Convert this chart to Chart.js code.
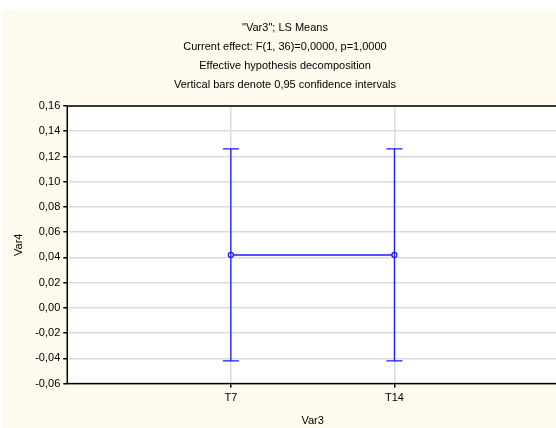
<!DOCTYPE html>
<html lang="en">
  <head>
    <meta charset="utf-8">
    <title>LS Means</title>
    <script src="https://cdn.jsdelivr.net/npm/chart.js@4/dist/chart.umd.min.js"></script>
    <style>
      html, body { margin: 0; padding: 0; background: #fff; overflow: hidden; }
      #wrap { position: absolute; left: 2px; top: 10px; width: 570px; height: 418px; background: #fff9ee; }
    </style>
  </head>
  <body>
    <div id="wrap">
      <canvas id="chart" width="570" height="418"></canvas>
    </div>

    <script type="text/javascript">

    var categories = ['T7', 'T14']
    var means = [0.042, 0.042]
    var lower = [-0.042, -0.042]
    var upper = [0.126, 0.126]

    var titleLines = [
      '"Var3"; LS Means',
      'Current effect: F(1, 36)=0,0000, p=1,0000',
      'Effective hypothesis decomposition',
      'Vertical bars denote 0,95 confidence intervals'
    ]

    var blue = '#1a1aff'

    // white plot area with black frame
    var plotBox = {
      id: 'plotBox',
      beforeDraw: function(chart){
        var a = chart.chartArea, ctx = chart.ctx
        ctx.save()
        ctx.fillStyle = '#fff'
        ctx.fillRect(a.left, a.top, a.right - a.left, a.bottom - a.top)
        ctx.restore()
      },
      afterDraw: function(chart){
        var a = chart.chartArea, ctx = chart.ctx
        ctx.save()
        ctx.strokeStyle = '#000'
        ctx.lineWidth = 1.5
        ctx.strokeRect(a.left, a.top, a.right - a.left, a.bottom - a.top)
        ctx.restore()
      }
    }

    // confidence interval whiskers
    var whiskers = {
      id: 'whiskers',
      afterDatasetsDraw: function(chart){
        var xs = chart.scales.x, ys = chart.scales.y, ctx = chart.ctx
        ctx.save()
        ctx.strokeStyle = blue
        ctx.lineWidth = 1.3
        for (var i = 0; i < categories.length; i++) {
          var x = xs.getPixelForValue(i + 1)
          var yl = ys.getPixelForValue(lower[i])
          var yu = ys.getPixelForValue(upper[i])
          ctx.beginPath()
          ctx.moveTo(x, yl); ctx.lineTo(x, yu)
          ctx.moveTo(x - 8, yl); ctx.lineTo(x + 8, yl)
          ctx.moveTo(x - 8, yu); ctx.lineTo(x + 8, yu)
          ctx.stroke()
        }
        ctx.restore()
      }
    }

    var font = { family: 'Arial, "Liberation Sans", sans-serif', size: 11 }

    var ctx = document.getElementById('chart').getContext('2d')
    var chart = new Chart(ctx, {
      type: 'line',
      data: {
        datasets: [{
          data: means.map(function(m, i){ return { x: i + 1, y: m } }),
          borderColor: blue,
          borderWidth: 1.5,
          backgroundColor: '#fff',
          pointRadius: 2.5,
          pointBorderWidth: 1.3,
          pointBorderColor: blue,
          pointBackgroundColor: '#fff'
        }]
      },
      options: {
        responsive: false,
        animation: false,
        layout: { padding: { left: 10, right: 14, top: 2, bottom: 0 } },
        plugins: {
          legend: { display: false },
          tooltip: { enabled: false },
          title: {
            display: true,
            text: titleLines,
            color: '#000',
            font: { family: font.family, size: 11, weight: 'normal', lineHeight: 1.75 },
            padding: { top: 6, bottom: 11 }
          }
        },
        scales: {
          x: {
            type: 'linear',
            min: 0,
            max: 3,
            afterBuildTicks: function(scale){
              scale.ticks = categories.map(function(c, i){ return { value: i + 1 } })
            },
            ticks: {
              color: '#000',
              font: font,
              padding: 4,
              callback: function(v){ return categories[v - 1] }
            },
            grid: { color: '#dcdcdc', lineWidth: 1.5, tickLength: 4, tickColor: '#000' },
            border: { display: false },
            title: { display: true, text: 'Var3', color: '#000', font: font, padding: { top: 6, bottom: 0 } }
          },
          y: {
            min: -0.06,
            max: 0.16,
            ticks: {
              stepSize: 0.02,
              color: '#000',
              font: font,
              padding: 3,
              callback: function(v){ return v.toFixed(2).replace('.', ',') }
            },
            grid: { color: '#dcdcdc', lineWidth: 1.5, tickLength: 4, tickColor: '#000' },
            border: { display: false },
            title: { display: true, text: 'Var4', color: '#000', font: font, padding: { top: 0, bottom: 7 } }
          }
        }
      },
      plugins: [plotBox, whiskers]
    })

    </script>
  </body>
</html>
